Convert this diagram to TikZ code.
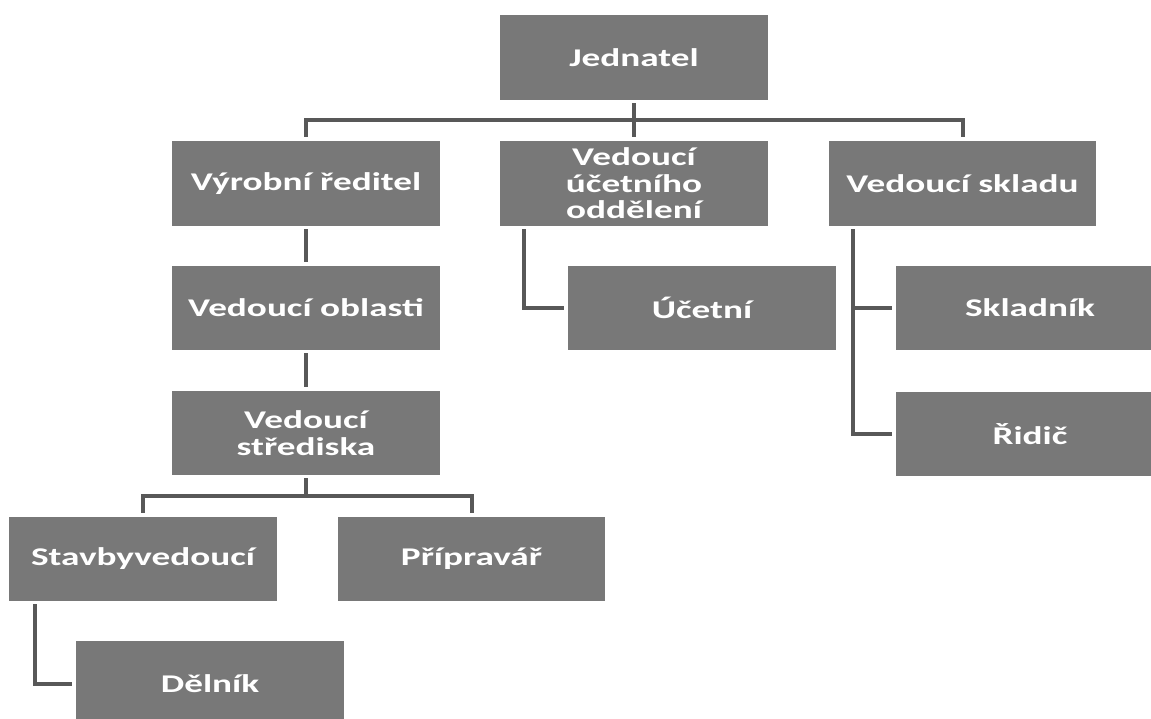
\documentclass[tikz,border=0pt]{standalone}
\usepackage{fontspec}
\newfontfamily\boxfont[FakeStretch=1.46]{Carlito}
\definecolor{boxgray}{RGB}{120,120,120}
\definecolor{linegray}{RGB}{88,88,88}
\tikzset{
  orgbox/.style={draw=none, fill=boxgray, text=white, inner sep=0pt, align=center,
    minimum width=268pt, minimum height=85pt,
    font=\boxfont\bfseries\fontsize{25.5}{26.5}\selectfont},
  conn/.style={draw=linegray, line width=4pt, shorten <=3pt, shorten >=4pt}
}
\begin{document}
\begin{tikzpicture}[x=1pt, y=-1pt]
\clip (0,0) rectangle (1151,718);
\fill[white] (0,0) rectangle (1151,718);
\node[orgbox] (J)  at (634,57.5)  {Jednatel};
\node[orgbox] (V1) at (306,183.5) {Výrobní ředitel};
\node[orgbox] (V2) at (634,183.5) {Vedoucí\\účetního\\oddělení};
\node[orgbox, minimum width=267pt] (V3) at (962.5,183.5) {Vedoucí skladu};
\node[orgbox, minimum height=84pt] (O) at (306,308) {Vedoucí oblasti};
\node[orgbox, minimum height=84pt] (S) at (306,433) {Vedoucí\\střediska};
\node[orgbox, minimum height=84pt] (St) at (143,559) {Stavbyvedoucí};
\node[orgbox, minimum height=84pt, minimum width=267pt] (P) at (471.5,559) {Přípravář};
\node[orgbox] (D) at (210,683.5) {Dělník};
\node[orgbox, minimum height=84pt] (U) at (702,308) {Účetní};
\node[orgbox, minimum height=84pt] (Sk) at (1030,308) {Skladník};
\node[orgbox, minimum height=84pt] (R) at (1030,434) {Řidič};
% connectors
\draw[conn] (J.south) -- ++(0,20) -| (V1.north);
\draw[conn] (J.south) -- ++(0,20) -| (V3.north);
\draw[conn] (J.south) -- (V2.north);
\draw[conn] (V1.south) -- (O.north);
\draw[conn] (O.south) -- (S.north);
\draw[conn] (S.south) -- ++(0,21) -| (St.north);
\draw[conn] (S.south) -- ++(0,21) -| (P.north);
\draw[conn] ([xshift=26pt]St.south west) |- (D.west);
\draw[conn] ([xshift=24pt]V2.south west) |- (U.west);
\draw[conn] ([xshift=24pt]V3.south west) |- (Sk.west);
\draw[conn] ([xshift=24pt]V3.south west) |- (R.west);
\end{tikzpicture}
\end{document}
